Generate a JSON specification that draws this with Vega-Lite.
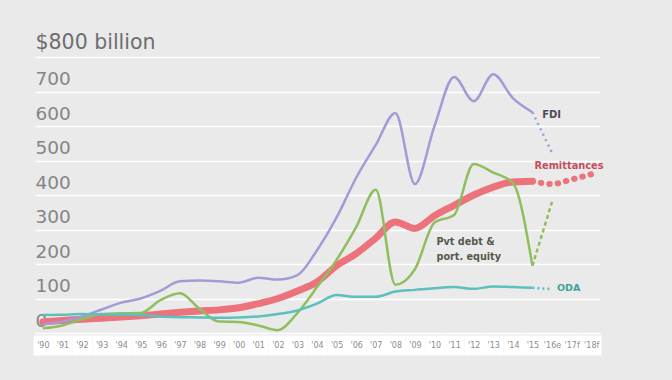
{
  "$schema": "https://vega.github.io/schema/vega-lite/v6.json",
  "width": 565,
  "height": 276,
  "autosize": {"type": "none"},
  "padding": {"left": 35, "top": 57, "right": 72, "bottom": 47},
  "background": "#eaeaea",
  "config": {"view": {"stroke": null}, "font": "DejaVu Sans"},
  "datasets": {
    "lines": [
      {"series": "FDI", "part": "actual", "year": 1990, "value": 25},
      {"series": "FDI", "part": "actual", "year": 1991, "value": 33},
      {"series": "FDI", "part": "actual", "year": 1992, "value": 48},
      {"series": "FDI", "part": "actual", "year": 1993, "value": 68},
      {"series": "FDI", "part": "actual", "year": 1994, "value": 88},
      {"series": "FDI", "part": "actual", "year": 1995, "value": 100},
      {"series": "FDI", "part": "actual", "year": 1996, "value": 122},
      {"series": "FDI", "part": "actual", "year": 1997, "value": 150},
      {"series": "FDI", "part": "actual", "year": 1998, "value": 152},
      {"series": "FDI", "part": "actual", "year": 1999, "value": 150},
      {"series": "FDI", "part": "actual", "year": 2000, "value": 146},
      {"series": "FDI", "part": "actual", "year": 2001, "value": 160},
      {"series": "FDI", "part": "actual", "year": 2002, "value": 155},
      {"series": "FDI", "part": "actual", "year": 2003, "value": 168},
      {"series": "FDI", "part": "actual", "year": 2004, "value": 240},
      {"series": "FDI", "part": "actual", "year": 2005, "value": 335},
      {"series": "FDI", "part": "actual", "year": 2006, "value": 450},
      {"series": "FDI", "part": "actual", "year": 2007, "value": 545},
      {"series": "FDI", "part": "actual", "year": 2008, "value": 638},
      {"series": "FDI", "part": "actual", "year": 2009, "value": 432},
      {"series": "FDI", "part": "actual", "year": 2010, "value": 600},
      {"series": "FDI", "part": "actual", "year": 2011, "value": 742},
      {"series": "FDI", "part": "actual", "year": 2012, "value": 672},
      {"series": "FDI", "part": "actual", "year": 2013, "value": 750},
      {"series": "FDI", "part": "actual", "year": 2014, "value": 681},
      {"series": "FDI", "part": "actual", "year": 2015, "value": 640},
      {"series": "FDI", "part": "proj", "year": 2015, "value": 640},
      {"series": "FDI", "part": "proj", "year": 2016, "value": 522},
      {"series": "Remittances", "part": "actual", "year": 1990, "value": 32},
      {"series": "Remittances", "part": "actual", "year": 1991, "value": 36},
      {"series": "Remittances", "part": "actual", "year": 1992, "value": 40},
      {"series": "Remittances", "part": "actual", "year": 1993, "value": 43},
      {"series": "Remittances", "part": "actual", "year": 1994, "value": 46},
      {"series": "Remittances", "part": "actual", "year": 1995, "value": 50},
      {"series": "Remittances", "part": "actual", "year": 1996, "value": 55},
      {"series": "Remittances", "part": "actual", "year": 1997, "value": 60},
      {"series": "Remittances", "part": "actual", "year": 1998, "value": 64},
      {"series": "Remittances", "part": "actual", "year": 1999, "value": 67},
      {"series": "Remittances", "part": "actual", "year": 2000, "value": 73},
      {"series": "Remittances", "part": "actual", "year": 2001, "value": 85},
      {"series": "Remittances", "part": "actual", "year": 2002, "value": 100},
      {"series": "Remittances", "part": "actual", "year": 2003, "value": 122},
      {"series": "Remittances", "part": "actual", "year": 2004, "value": 148},
      {"series": "Remittances", "part": "actual", "year": 2005, "value": 195},
      {"series": "Remittances", "part": "actual", "year": 2006, "value": 230},
      {"series": "Remittances", "part": "actual", "year": 2007, "value": 275},
      {"series": "Remittances", "part": "actual", "year": 2008, "value": 322},
      {"series": "Remittances", "part": "actual", "year": 2009, "value": 303},
      {"series": "Remittances", "part": "actual", "year": 2010, "value": 340},
      {"series": "Remittances", "part": "actual", "year": 2011, "value": 370},
      {"series": "Remittances", "part": "actual", "year": 2012, "value": 400},
      {"series": "Remittances", "part": "actual", "year": 2013, "value": 423},
      {"series": "Remittances", "part": "actual", "year": 2014, "value": 438},
      {"series": "Remittances", "part": "actual", "year": 2015, "value": 440},
      {"series": "Remittances", "part": "proj", "year": 2015, "value": 440},
      {"series": "Remittances", "part": "proj", "year": 2016, "value": 432},
      {"series": "Remittances", "part": "proj", "year": 2017, "value": 445},
      {"series": "Remittances", "part": "proj", "year": 2018, "value": 460},
      {"series": "Pvt", "part": "actual", "year": 1990, "value": 14},
      {"series": "Pvt", "part": "actual", "year": 1991, "value": 22},
      {"series": "Pvt", "part": "actual", "year": 1992, "value": 40},
      {"series": "Pvt", "part": "actual", "year": 1993, "value": 55},
      {"series": "Pvt", "part": "actual", "year": 1994, "value": 57},
      {"series": "Pvt", "part": "actual", "year": 1995, "value": 58},
      {"series": "Pvt", "part": "actual", "year": 1996, "value": 95},
      {"series": "Pvt", "part": "actual", "year": 1997, "value": 115},
      {"series": "Pvt", "part": "actual", "year": 1998, "value": 70},
      {"series": "Pvt", "part": "actual", "year": 1999, "value": 33},
      {"series": "Pvt", "part": "actual", "year": 2000, "value": 32},
      {"series": "Pvt", "part": "actual", "year": 2001, "value": 22},
      {"series": "Pvt", "part": "actual", "year": 2002, "value": 8},
      {"series": "Pvt", "part": "actual", "year": 2003, "value": 58},
      {"series": "Pvt", "part": "actual", "year": 2004, "value": 133},
      {"series": "Pvt", "part": "actual", "year": 2005, "value": 212},
      {"series": "Pvt", "part": "actual", "year": 2006, "value": 307},
      {"series": "Pvt", "part": "actual", "year": 2007, "value": 415},
      {"series": "Pvt", "part": "actual", "year": 2008, "value": 140},
      {"series": "Pvt", "part": "actual", "year": 2009, "value": 185},
      {"series": "Pvt", "part": "actual", "year": 2010, "value": 320},
      {"series": "Pvt", "part": "actual", "year": 2011, "value": 342},
      {"series": "Pvt", "part": "actual", "year": 2012, "value": 490},
      {"series": "Pvt", "part": "actual", "year": 2013, "value": 465},
      {"series": "Pvt", "part": "actual", "year": 2014, "value": 435},
      {"series": "Pvt", "part": "actual", "year": 2015, "value": 195},
      {"series": "Pvt", "part": "proj", "year": 2015, "value": 195},
      {"series": "Pvt", "part": "proj", "year": 2016, "value": 380},
      {"series": "ODA", "part": "actual", "year": 1990, "value": 52},
      {"series": "ODA", "part": "actual", "year": 1991, "value": 53},
      {"series": "ODA", "part": "actual", "year": 1992, "value": 55},
      {"series": "ODA", "part": "actual", "year": 1993, "value": 54},
      {"series": "ODA", "part": "actual", "year": 1994, "value": 53},
      {"series": "ODA", "part": "actual", "year": 1995, "value": 52},
      {"series": "ODA", "part": "actual", "year": 1996, "value": 48},
      {"series": "ODA", "part": "actual", "year": 1997, "value": 46},
      {"series": "ODA", "part": "actual", "year": 1998, "value": 45},
      {"series": "ODA", "part": "actual", "year": 1999, "value": 44},
      {"series": "ODA", "part": "actual", "year": 2000, "value": 45},
      {"series": "ODA", "part": "actual", "year": 2001, "value": 48},
      {"series": "ODA", "part": "actual", "year": 2002, "value": 55},
      {"series": "ODA", "part": "actual", "year": 2003, "value": 65},
      {"series": "ODA", "part": "actual", "year": 2004, "value": 85},
      {"series": "ODA", "part": "actual", "year": 2005, "value": 110},
      {"series": "ODA", "part": "actual", "year": 2006, "value": 105},
      {"series": "ODA", "part": "actual", "year": 2007, "value": 105},
      {"series": "ODA", "part": "actual", "year": 2008, "value": 120},
      {"series": "ODA", "part": "actual", "year": 2009, "value": 125},
      {"series": "ODA", "part": "actual", "year": 2010, "value": 130},
      {"series": "ODA", "part": "actual", "year": 2011, "value": 133},
      {"series": "ODA", "part": "actual", "year": 2012, "value": 128},
      {"series": "ODA", "part": "actual", "year": 2013, "value": 135},
      {"series": "ODA", "part": "actual", "year": 2014, "value": 133},
      {"series": "ODA", "part": "actual", "year": 2015, "value": 131},
      {"series": "ODA", "part": "proj", "year": 2015, "value": 131},
      {"series": "ODA", "part": "proj", "year": 2016, "value": 127}
    ],
    "labels": [
      {"series": "FDI", "text": "FDI", "year": 2015.5, "value": 632},
      {"series": "Remittances", "text": "Remittances", "year": 2015.1, "value": 484},
      {"series": "Pvt", "text": "Pvt debt &", "year": 2010.1, "value": 264},
      {"series": "Pvt", "text": "port. equity", "year": 2010.1, "value": 220},
      {"series": "ODA", "text": "ODA", "year": 2016.25, "value": 129}
    ]
  },
  "encoding": {
    "x": {
      "field": "year",
      "type": "quantitative",
      "scale": {"domain": [1989.6, 2018.45], "nice": false, "zero": false},
      "axis": {
        "title": null,
        "values": [1990, 1991, 1992, 1993, 1994, 1995, 1996, 1997, 1998, 1999, 2000, 2001, 2002, 2003, 2004, 2005, 2006, 2007, 2008, 2009, 2010, 2011, 2012, 2013, 2014, 2015, 2016, 2017, 2018],
        "labelExpr": "\"'\" + substring(toString(datum.value), 2, 4) + (datum.value == 2016 ? 'e' : (datum.value > 2016 ? 'f' : ''))",
        "grid": false,
        "domain": false,
        "ticks": true,
        "tickColor": "#ffffff",
        "tickWidth": 20,
        "tickSize": 20,
        "tickCap": "butt",
        "offset": 2,
        "labelPadding": -10,
        "labelBaseline": "middle",
        "labelFontSize": 8,
        "labelColor": "#8c8c8c",
        "labelFlush": false,
        "labelOverlap": false,
        "labelBound": false
      }
    },
    "y": {
      "field": "value",
      "type": "quantitative",
      "scale": {"domain": [0, 800], "nice": false},
      "axis": {
        "title": null,
        "values": [0, 100, 200, 300, 400, 500, 600, 700, 800],
        "labelExpr": "datum.value == 800 ? '$800 billion' : datum.label",
        "grid": true,
        "gridColor": "#ffffff",
        "gridWidth": 1.5,
        "domain": false,
        "ticks": false,
        "tickSize": 0,
        "labelAlign": "left",
        "labelBaseline": "alphabetic",
        "labelPadding": 0,
        "labelOffset": {"condition": {"test": "datum.value == 800", "value": -9}, "value": -7},
        "labelFontSize": {"condition": {"test": "datum.value == 800", "value": 20.5}, "value": 18.5},
        "labelColor": {"condition": {"test": "datum.value == 800", "value": "#6e6e6e"}, "value": "#858585"},
        "labelOverlap": false,
        "labelBound": false,
        "labelFlush": false
      }
    }
  },
  "layer": [
    {
      "data": {"name": "lines"},
      "transform": [{"filter": "datum.series == 'Remittances' && datum.part == 'actual'"}],
      "mark": {"type": "line", "color": "#ec737b", "strokeWidth": 7, "interpolate": "monotone", "strokeCap": "round"}
    },
    {
      "data": {"name": "lines"},
      "transform": [{"filter": "datum.series != 'Remittances' && datum.part == 'actual'"}],
      "mark": {"type": "line", "strokeWidth": 2.5, "interpolate": "monotone"},
      "encoding": {
        "color": {"field": "series", "type": "nominal", "legend": null,
          "scale": {"domain": ["FDI", "Pvt", "ODA"], "range": ["#a39bd8", "#8fbe5e", "#5cc0bd"]}}
      }
    },
    {
      "data": {"name": "lines"},
      "transform": [{"filter": "datum.series == 'Remittances' && datum.part == 'proj'"}],
      "mark": {"type": "line", "color": "#ec737b", "strokeWidth": 6, "interpolate": "monotone", "strokeCap": "round", "strokeDash": [0.5, 8]}
    },
    {
      "data": {"name": "lines"},
      "transform": [{"filter": "datum.series != 'Remittances' && datum.part == 'proj'"}],
      "mark": {"type": "line", "strokeWidth": 2.5, "interpolate": "monotone"},
      "encoding": {
        "color": {"field": "series", "type": "nominal", "legend": null,
          "scale": {"domain": ["FDI", "Pvt", "ODA"], "range": ["#a39bd8", "#8fbe5e", "#5cc0bd"]}},
        "strokeDash": {"field": "series", "type": "nominal", "legend": null,
          "scale": {"domain": ["FDI", "Pvt", "ODA"], "range": [[2, 4], [4, 3], [2, 3]]}}
      }
    },
    {
      "data": {"name": "labels"},
      "mark": {"type": "text", "align": "left", "baseline": "middle", "fontWeight": "bold"},
      "encoding": {
        "text": {"field": "text"},
        "color": {"field": "series", "type": "nominal", "legend": null,
          "scale": {"domain": ["FDI", "Remittances", "Pvt", "ODA"], "range": ["#4c4c5c", "#c0505a", "#55594c", "#3f9f9c"]}},
        "size": {"field": "series", "type": "nominal", "legend": null,
          "scale": {"domain": ["FDI", "Remittances", "Pvt", "ODA"], "range": [10, 9.5, 9.5, 10.5]}}
      }
    }
  ],
  "resolve": {"scale": {"color": "independent", "strokeDash": "independent", "size": "independent"}}
}
